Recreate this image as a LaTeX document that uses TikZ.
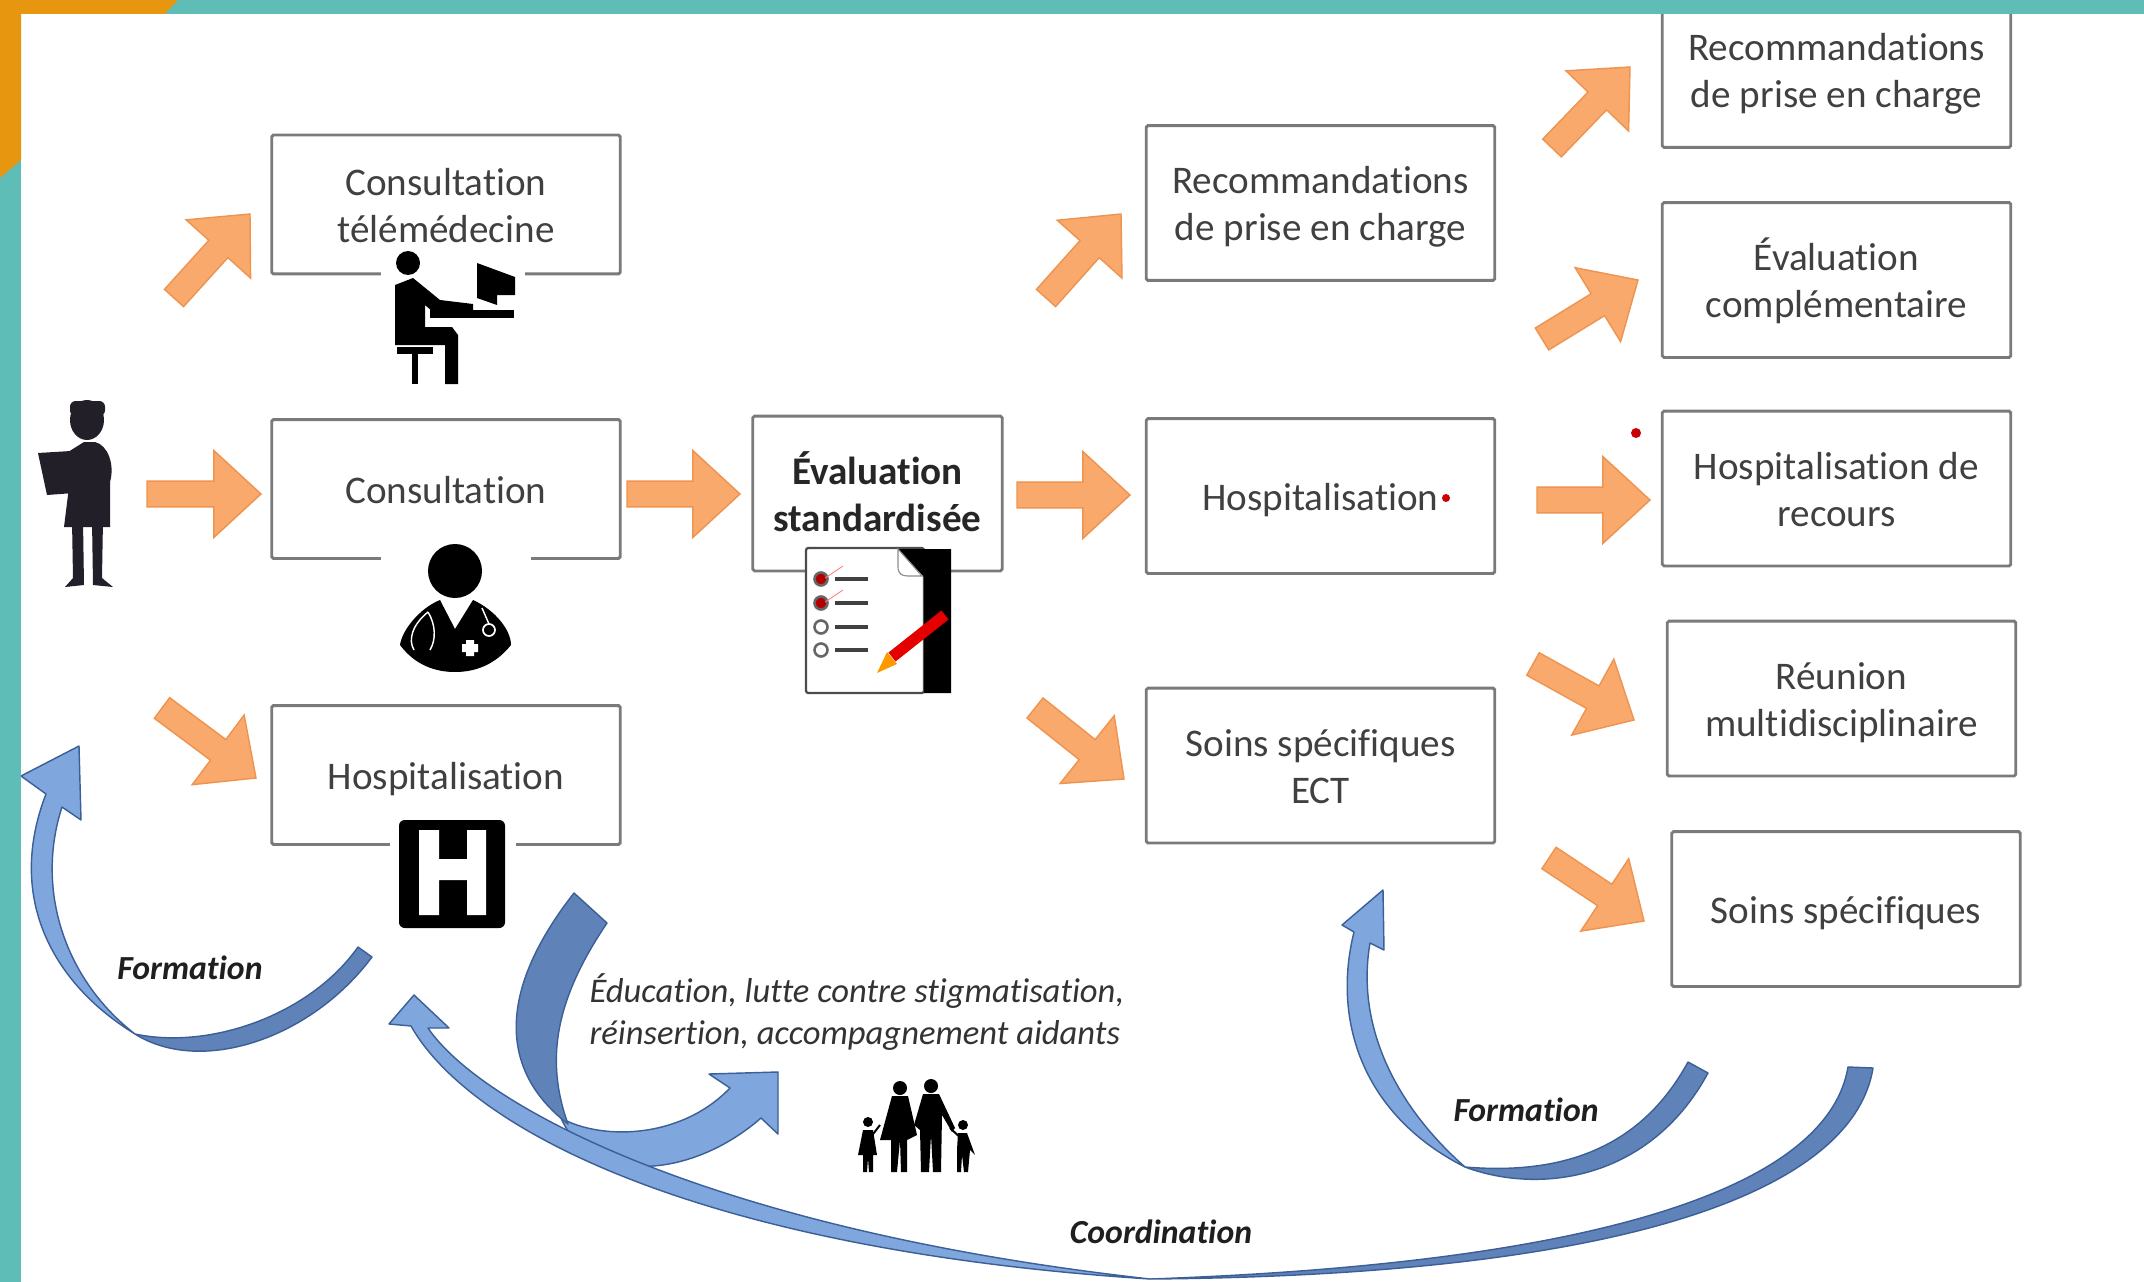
\documentclass[tikz,border=0pt]{standalone}
\usepackage{fontspec}
\setmainfont{Carlito}[Ligatures=NoCommon]
\usetikzlibrary{calc}
\definecolor{tealband}{HTML}{5FBDB8}
\definecolor{orangeband}{HTML}{E6960F}
\definecolor{arrowfill}{HTML}{F9A96B}
\definecolor{arrowline}{HTML}{EE9450}
\definecolor{bluelight}{HTML}{7FA7DE}
\definecolor{bluedark}{HTML}{5F82B8}
\definecolor{blueline}{HTML}{3C5F98}
\definecolor{boxline}{HTML}{7A7A7A}
\definecolor{labelgrey}{HTML}{404040}
\definecolor{silhouette}{HTML}{231F28}
\tikzset{
  boxnode/.style={draw=boxline,line width=1pt,rounded corners=0.6pt,fill=white,minimum width=122pt,minimum height=48.6pt,inner sep=0pt,align=center,text=labelgrey,text height=10pt,text depth=0pt,font=\fontsize{13.7}{16.4}\selectfont},
  tallbox/.style={boxnode,minimum height=54.2pt},
  twolines/.style={text height=26.4pt},
  evalbox/.style={tallbox,twolines,minimum width=87.3pt,font=\fontsize{13.7}{16.4}\selectfont\bfseries,text=black!85},
  orangearrow/.style={fill=arrowfill,draw=arrowline,line width=0.5pt,line join=miter},
  ribbonlight/.style={fill=bluelight,draw=blueline,line width=0.5pt,line join=round},
  ribbondark/.style={fill=bluedark,draw=blueline,line width=0.5pt,line join=round},
  flowlabel/.style={inner sep=0pt,font=\fontsize{12.1}{14.7}\selectfont\itshape,text=black!80,align=left},
  boldlabel/.style={inner sep=0pt,font=\fontsize{11.8}{12}\selectfont\itshape\bfseries,text=black!88},
  reddot/.style={fill=red!80!black},
}
\newcommand\blockarrow[2]{%
  \path coordinate (nk) at ($(#2)!16.5pt!(#1)$);
  \draw[orangearrow] ($(#1)!4.5pt!90:(#2)$) -- ($(nk)!4.5pt!90:(#2)$) -- ($(nk)!15.2pt!90:(#2)$) -- (#2)
    -- ($(nk)!15.2pt!-90:(#2)$) -- ($(nk)!4.5pt!-90:(#2)$) -- ($(#1)!4.5pt!-90:(#2)$) -- cycle;
}
\begin{document}
\begin{tikzpicture}[x=0.35pt,y=-0.35pt]
\useasboundingbox (0,0) rectangle (2144,1282);
\clip (0,0) rectangle (2144,1282);
\fill[white] (0,0) rectangle (2144,1282);

% boxes
\node[boxnode,twolines] (tele) at (446,204.5) {Consultation\\télémédecine};
\node[boxnode] (cons) at (446,489) {Consultation};
\node[boxnode] (hospa) at (446,775) {Hospitalisation};
\node[evalbox] (eval) at (877.5,493.5) {Évaluation\\standardisée};
\node[tallbox,twolines] (reco) at (1320.5,203) {Recommandations\\de prise en charge};
\node[tallbox] (hospb) at (1320.5,496) {Hospitalisation};
\node[tallbox,twolines] (ect) at (1320.5,765.5) {Soins spécifiques\\ECT};
\node[tallbox,twolines] (recob) at (1836.5,70) {Recommandations\\de prise en charge};
\node[tallbox,twolines] (evalc) at (1836.5,280) {Évaluation\\complémentaire};
\node[tallbox,twolines] (recours) at (1836.5,488.5) {Hospitalisation de\\recours};
\node[tallbox,twolines] (reunion) at (1841.5,698.5) {Réunion\\multidisciplinaire};
\node[tallbox] (soins) at (1846,909) {Soins spécifiques};

% gaps in box edges
\fill[white] (381,268) rectangle (525,282);
\fill[white] (381,552) rectangle (531,566);
\fill[white] (390,838) rectangle (516,852);

% block arrows
\coordinate (a1t) at (174,298); \coordinate (a1h) at (250,214);
\coordinate (a2t) at (147,494); \coordinate (a2h) at (261,494);
\coordinate (a3t) at (162,708); \coordinate (a3h) at (256,778);
\coordinate (a4t) at (627,494); \coordinate (a4h) at (740,494);
\coordinate (a5t) at (1017,495); \coordinate (a5h) at (1130,495);
\coordinate (a6t) at (1046,298); \coordinate (a6h) at (1121,214);
\coordinate (a7t) at (1035,708); \coordinate (a7h) at (1124,779);
\coordinate (a8t) at (1552,148); \coordinate (a8h) at (1630,67);
\coordinate (a9t) at (1542,339); \coordinate (a9h) at (1638,280);
\coordinate (a10t) at (1537,500); \coordinate (a10h) at (1650,500);
\coordinate (a11t) at (1533,664); \coordinate (a11h) at (1634,720);
\coordinate (a12t) at (1549,858); \coordinate (a12h) at (1644,921);
\foreach \n in {1,...,12}{\blockarrow{a\n t}{a\n h}}

% Formation left
\draw[ribbondark] (135,1034) .. controls (200,1075) and (310,1040) .. (372,957) -- (358,947)
  .. controls (310,1015) and (210,1050) .. (135,1034) -- cycle;
\draw[ribbonlight] (21,776) -- (79,746) -- (81,820) -- (62,807) .. controls (35,890) and (65,980) .. (135,1034)
  .. controls (55,985) and (5,900) .. (46,794) -- cycle;

% Education arrow
\draw[ribbonlight] (561,1118) .. controls (600,1140) and (680,1140) .. (730,1088) -- (709,1074) -- (778,1072) -- (778,1134) -- (761,1118)
  .. controls (690,1180) and (590,1185) .. (561,1118) -- cycle;
\draw[ribbondark] (574,893) -- (607,923) .. controls (555,1000) and (545,1060) .. (568,1124)
  .. controls (498,1070) and (498,990) .. (574,893) -- cycle;

% Coordination
\draw[ribbonlight] (414,995) -- (389,1024) -- (411,1026)
  .. controls (470,1130) and (700,1250) .. (1150,1279)
  .. controls (710,1230) and (480,1105) .. (428,1028)
  -- (449,1028) -- cycle;
\draw[ribbondark] (1848,1067) -- (1873,1068)
  .. controls (1855,1180) and (1660,1275) .. (1150,1279)
  .. controls (1640,1262) and (1830,1175) .. (1848,1067) -- cycle;

% Formation right
\draw[ribbonlight] (1383,890) -- (1342,925) -- (1354,932) .. controls (1332,1020) and (1362,1115) .. (1465,1167)
  .. controls (1400,1110) and (1355,1030) .. (1370,943) -- (1384,950) -- cycle;
\draw[ribbondark] (1465,1167) .. controls (1540,1195) and (1650,1180) .. (1708,1073) -- (1688,1062)
  .. controls (1640,1150) and (1560,1175) .. (1465,1167) -- cycle;

% patient silhouette
\begin{scope}[silhouette]
\fill (87,420) ellipse (17 and 20);
\fill[rounded corners=2pt] (70,401) rectangle (105,416);
\fill (38,453) -- (71,451) -- (74,493) -- (47,495) -- cycle;
\fill (68,452) -- (84,442) -- (95,442) .. controls (108,445) and (115,465) .. (110,482) -- (110,527) -- (64,527) -- (68,495) -- cycle;
\fill (72,520) -- (83,520) -- (84,585) -- (65,587) -- (73,578) -- cycle;
\fill (92,520) -- (103,520) -- (102,578) -- (113,587) -- (93,585) -- cycle;
\end{scope}

% telemedicine icon
\fill (408,263) circle (12);
\fill (395,285) -- (413,278) -- (440,300) -- (473,304) -- (473,312) -- (433,312) -- (425,305) -- (425,327) -- (452,327)
  -- (458,335) -- (458,384) -- (445,384) -- (445,345) -- (395,345) -- cycle;
\fill (397,347) rectangle (433,354);
\fill (412,354) rectangle (418,384);
\fill (430,310) rectangle (514,318);
\fill (477,263) -- (515,277) -- (515,295) -- (497,295) -- (497,305) -- (477,298) -- cycle;

% doctor icon
\fill (455,571) circle (27);
\fill (440,600) -- (455,629) -- (473,600) .. controls (495,610) and (511,630) .. (511,645)
  .. controls (495,665) and (475,672) .. (455,672) .. controls (435,672) and (415,665) .. (400,645)
  .. controls (402,630) and (420,608) .. (440,600) -- cycle;
\draw[white,line width=0.5pt] (428,612) .. controls (412,625) and (408,640) .. (414,650) (428,612) .. controls (436,625) and (436,640) .. (430,650);
\draw[white,line width=0.6pt] (489,630) circle (6);
\draw[white,line width=0.5pt] (489,624) -- (482,608);
\fill[white] (466,640) rectangle (474,656) (462,644) rectangle (478,652);

% H icon
\fill[rounded corners=2pt] (399,820) rectangle (505,928);
\fill[white] (419,830) rectangle (439,915) (467,830) rectangle (486,915) (439,859) rectangle (467,880);

% checklist icon
\draw[fill=white,draw=black!70,line width=0.8pt,rounded corners=0.8pt] (806,548) rectangle (924,693);
\fill (898,549) -- (951,549) -- (951,693) -- (924,693) -- (924,577) -- cycle;
\draw[fill=white,draw=black!45,line width=0.4pt] (898,549) -- (898,567) .. controls (898,574) and (902,576) .. (908,576) -- (922,576) -- cycle;
\foreach \yy/\ff in {579/red!70!black,603/red!70!black,627/white,650/white}{
  \draw[black!60,line width=0.9pt,fill=\ff] (821,\yy) circle (6.5);
  \draw[black!75,line width=1.1pt] (835,\yy) -- (868,\yy);
}
\draw[red!50,line width=0.3pt] (825,578) -- (843,566) (825,602) -- (843,590);
\draw[red!90!black,line width=4pt] (945,615) -- (892,657);
\fill[orange!80!yellow] (887,652) -- (897,664) -- (877,673) -- cycle;

% family icon
\begin{scope}[black]
\fill (900,1088) circle (7) (931,1086) circle (7);
\fill (868,1122) circle (5) (963,1125) circle (5);
\fill (892,1096) -- (908,1096) -- (917,1135) -- (907,1140) -- (907,1172) -- (901,1172) -- (900,1140) -- (897,1172) -- (891,1172) -- (891,1140) -- (880,1140) -- cycle;
\fill (923,1094) -- (939,1094) -- (955,1128) -- (952,1132) -- (942,1115) -- (941,1172) -- (933,1172) -- (931,1135) -- (929,1172) -- (921,1172) -- (920,1130) -- (914,1125) -- cycle;
\fill (863,1130) -- (873,1130) -- (877,1155) -- (873,1155) -- (873,1172) -- (869,1172) -- (868,1158) -- (867,1172) -- (863,1172) -- (863,1155) -- (858,1155) -- cycle;
\fill (958,1133) -- (967,1133) -- (975,1155) -- (970,1150) -- (968,1172) -- (964,1172) -- (962,1155) -- (961,1172) -- (957,1172) -- (957,1150) -- cycle;
\draw[line width=0.7pt] (880,1125) -- (870,1138) (950,1128) -- (963,1140);
\end{scope}

% labels
\node[boldlabel] (f1) at (190,968) {Formation};
\node[boldlabel] (f2) at (1526,1110) {Formation};
\node[boldlabel] (coord) at (1161,1232) {Coordination};
\node[flowlabel,anchor=west] (edu) at (589,1012) {Éducation, lutte contre stigmatisation,\\réinsertion, accompagnement aidants};

% red dots
\fill[reddot] (1446,498) circle (4);
\fill[reddot] (1636,433) circle (5);

% frame
\fill[tealband] (0,0) rectangle (2144,14);
\fill[tealband] (0,0) rectangle (21,1282);
\fill[orangeband] (0,0) -- (178,0) -- (165,14) -- (21,14) -- (21,160) -- (0,178) -- cycle;
\end{tikzpicture}
\end{document}
